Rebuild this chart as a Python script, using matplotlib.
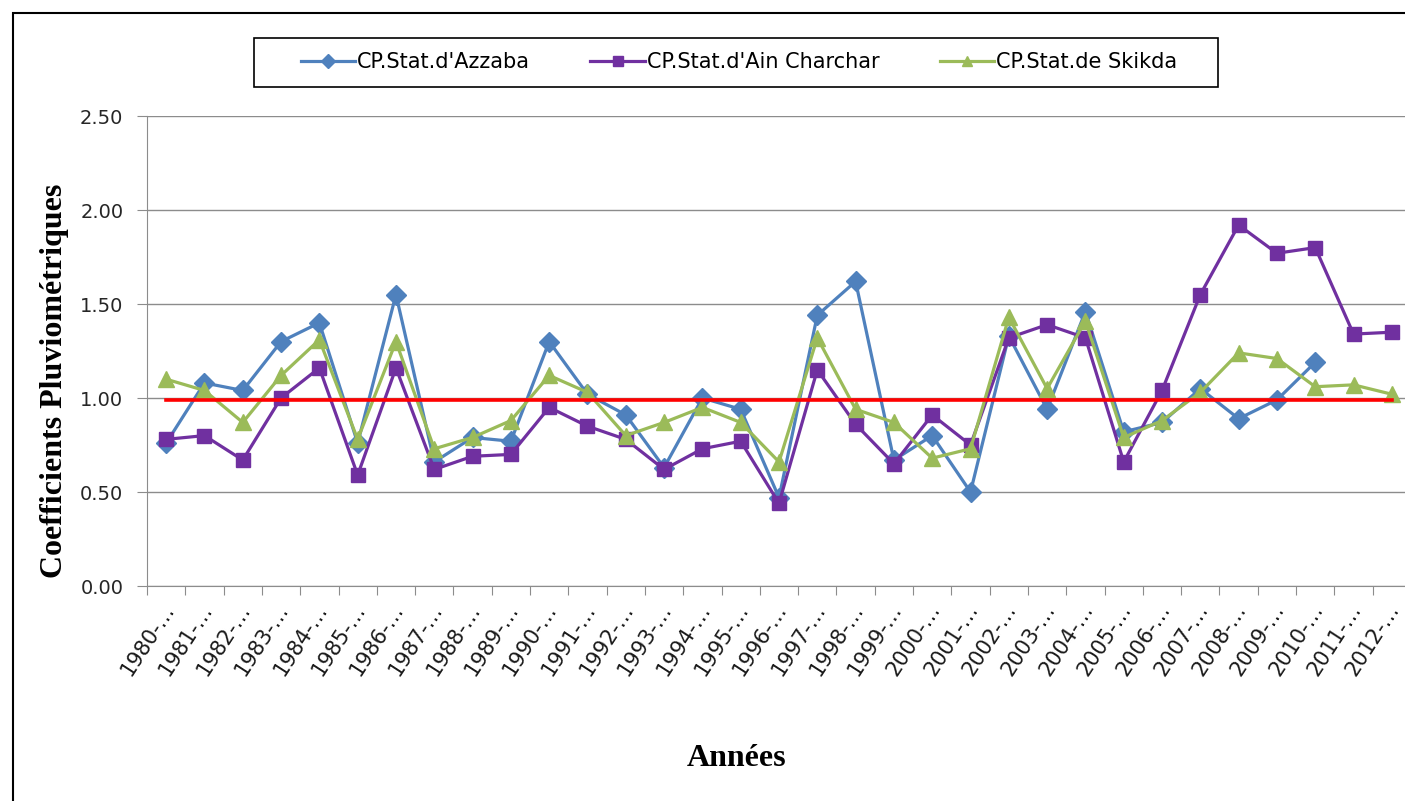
import matplotlib.pyplot as plt
from matplotlib.patches import Rectangle
from matplotlib.transforms import ScaledTranslation

# --- data ---
years = list(range(1980, 2013))
tick_labels = [f"{y}-…" for y in years]

azzaba = [0.76, 1.08, 1.04, 1.30, 1.40, 0.76, 1.55, 0.66, 0.79, 0.77,
          1.30, 1.02, 0.91, 0.63, 1.00, 0.94, 0.47, 1.44, 1.62, 0.67,
          0.80, 0.50, 1.33, 0.94, 1.46, 0.82, 0.87, 1.05, 0.89, 0.99,
          1.19, None, None]
ain_charchar = [0.78, 0.80, 0.67, 1.00, 1.16, 0.59, 1.16, 0.62, 0.69, 0.70,
                0.95, 0.85, 0.78, 0.62, 0.73, 0.77, 0.44, 1.15, 0.86, 0.65,
                0.91, 0.75, 1.32, 1.39, 1.32, 0.66, 1.04, 1.55, 1.92, 1.77,
                1.80, 1.34, 1.35]
skikda = [1.10, 1.04, 0.87, 1.12, 1.31, 0.78, 1.30, 0.73, 0.79, 0.88,
          1.12, 1.03, 0.80, 0.87, 0.95, 0.87, 0.66, 1.32, 0.94, 0.87,
          0.68, 0.73, 1.43, 1.05, 1.41, 0.79, 0.88, 1.03, 1.24, 1.21,
          1.06, 1.07, 1.02]
reference_level = 0.99

series_names = ["CP.Stat.d'Azzaba", "CP.Stat.d'Ain Charchar", "CP.Stat.de Skikda"]

W, H = 1405, 801
fig = plt.figure(figsize=(W / 100, H / 100), dpi=100)

# outer chart frame (runs off the right/bottom edge)
fig.patches.append(Rectangle((13 / W, -0.05), 1.1, 1 - 13 / H + 0.05,
                             transform=fig.transFigure, fill=False,
                             edgecolor="black", linewidth=1.5))
# legend box, drawn separately so its padding can be wider than tall
fig.patches.append(Rectangle((254 / W, 1 - 87 / H), (1218 - 254) / W, 49 / H,
                             transform=fig.transFigure, fill=False,
                             edgecolor="black", linewidth=1.2))

left, right, top, bottom = 147, 1411, 116, 586
ax = fig.add_axes([left / W, 1 - bottom / H, (right - left) / W, (bottom - top) / H])

x = list(range(len(years)))
tick_font = "DejaVu Sans"

def clean(vals):
    return [float("nan") if v is None else v for v in vals]

ax.plot(x, clean(azzaba), color="#4F81BD", lw=2.3, marker="D", ms=10,
        label=series_names[0], zorder=3)
ax.plot(x, clean(ain_charchar), color="#7030A0", lw=2.3, marker="s", ms=10.5,
        label=series_names[1], zorder=3)
ax.plot(x, clean(skikda), color="#9BBB59", lw=2.3, marker="^", ms=12,
        label=series_names[2], zorder=3)
ax.plot([x[0], x[-1]], [reference_level, reference_level], color="#FF0000",
        lw=2.6, zorder=4)

ax.set_xlim(-0.5, len(years) - 0.5)
ax.set_ylim(0, 2.5)
yticks = [0, 0.5, 1.0, 1.5, 2.0, 2.5]
ax.set_yticks(yticks)
ax.set_yticklabels([f"{v:.2f}" for v in yticks],
                   fontsize=14, family=tick_font, color="#262626")
ax.yaxis.grid(True, color="#8c8c8c", lw=1)
ax.set_axisbelow(True)

ax.set_xticks([i - 0.5 for i in x] + [len(years) - 0.5])
ax.set_xticklabels([])
ax.set_xticks(x, minor=True)
ax.set_xticklabels(tick_labels, minor=True, rotation=57, ha="right",
                   rotation_mode="anchor", fontsize=15, family=tick_font,
                   color="#1a1a1a")
ax.tick_params(axis="x", which="minor", length=0, pad=10)
ax.tick_params(axis="x", which="major", length=6.5, color="#8c8c8c")
ax.tick_params(axis="y", length=7, color="#8c8c8c", pad=10)

# pull the rotated labels slightly left so the last one stays inside
offset = ScaledTranslation(-5 / 100, 0, fig.dpi_scale_trans)
for lbl in ax.get_xticklabels(minor=True):
    lbl.set_transform(lbl.get_transform() + offset)

for s in ["top", "right"]:
    ax.spines[s].set_visible(False)
for s in ["left", "bottom"]:
    ax.spines[s].set_color("#8c8c8c")

fig.text(55 / W, 1 - 381 / H, "Coefficients Pluviométriques", rotation=90,
         ha="center", va="center", fontsize=23, fontweight="bold",
         family="Liberation Serif")
fig.text(737 / W, 1 - 759 / H, "Années", ha="center", va="center",
         fontsize=23, fontweight="bold", family="Liberation Serif")

leg = fig.legend(loc="center", bbox_to_anchor=(739 / W, 1 - 62 / H), ncol=3,
                 frameon=False, prop={"family": tick_font, "size": 15},
                 handlelength=2.6, columnspacing=2.9, borderpad=0.3,
                 borderaxespad=0, handletextpad=0.1)
for h in leg.legend_handles:
    h.set_markersize(7.5)

fig.savefig("out.png", dpi=100)
